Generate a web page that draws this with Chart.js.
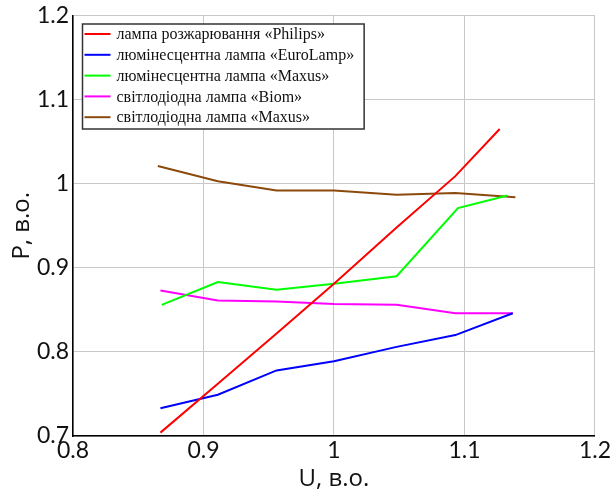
<!DOCTYPE html>
<html>
<head>
<meta charset="utf-8">
<script src="https://cdn.jsdelivr.net/npm/chart.js@4"></script>
<style>
    body { margin: 0; background: #fff; }
    #wrap { width: 614px; height: 491px; }
</style>
</head>
<body>
<div id="wrap"><canvas id="chart"></canvas></div>
<script>
// U, в.о. (спільні точки для більшості ламп)
const uPoints = [0.867, 0.911, 0.956, 1.0, 1.048, 1.093, 1.137];
const uPhilips = [0.867, 0.911, 0.956, 1.0, 1.048, 1.093, 1.127];
const uMaxusLum = [0.868, 0.911, 0.956, 1.0, 1.048, 1.095, 1.133];
const uMaxusLed = [0.865, 0.911, 0.956, 1.0, 1.048, 1.093, 1.139];

// P, в.о.
const pPhilips = [0.704, 0.762, 0.822, 0.881, 0.948, 1.009, 1.065];
const pEuroLamp = [0.733, 0.749, 0.778, 0.789, 0.806, 0.820, 0.846];
const pMaxusLum = [0.856, 0.883, 0.874, 0.881, 0.890, 0.971, 0.986];
const pBiom = [0.873, 0.861, 0.860, 0.857, 0.856, 0.846, 0.846];
const pMaxusLed = [1.021, 1.003, 0.992, 0.992, 0.987, 0.989, 0.984];

const labels = [
    'лампа розжарювання «Philips»',
    'люмінесцентна лампа «EuroLamp»',
    'люмінесцентна лампа «Maxus»',
    'світлодіодна лампа «Biom»',
    'світлодіодна лампа «Maxus»'
];
const colors = ['#ff0000', '#0000ff', '#00ff00', '#ff00ff', '#8b4a0c'];

const xTicks = [0.8, 0.9, 1.0, 1.1, 1.2];
const yTicks = [0.7, 0.8, 0.9, 1.0, 1.1, 1.2];

const toPoints = (xs, ys) => xs.map((x, i) => ({ x: x, y: ys[i] }));

const series = [
    toPoints(uPhilips, pPhilips),
    toPoints(uPoints, pEuroLamp),
    toPoints(uMaxusLum, pMaxusLum),
    toPoints(uPoints, pBiom),
    toPoints(uMaxusLed, pMaxusLed)
];

// легенда всередині поля графіка
const boxLegend = {
    id: 'boxLegend',
    afterDraw(chart) {
        const ctx = chart.ctx;
        const area = chart.chartArea;
        ctx.save();
        ctx.font = '16px "Liberation Serif", serif';
        let maxW = 0;
        labels.forEach(t => { maxW = Math.max(maxW, ctx.measureText(t).width); });
        const x0 = area.left + 9.5;
        const y0 = area.top + 8.5;
        const rowH = 20.8;
        const w = 35 + maxW + 9;
        const h = rowH * labels.length + 1;
        ctx.fillStyle = '#fff';
        ctx.fillRect(x0, y0, w, h);
        ctx.strokeStyle = '#333';
        ctx.lineWidth = 1.5;
        ctx.strokeRect(x0, y0, w, h);
        ctx.textBaseline = 'middle';
        labels.forEach((t, i) => {
            const y = y0 + 10 + i * rowH;
            ctx.strokeStyle = colors[i];
            ctx.lineWidth = 2;
            ctx.beginPath();
            ctx.moveTo(x0 + 2, y);
            ctx.lineTo(x0 + 28, y);
            ctx.stroke();
            ctx.fillStyle = '#111';
            ctx.fillText(t, x0 + 34, y + 1);
        });
        ctx.restore();
    }
};

const fmt = v => String(Number(v.toFixed(2)));
const tickFont = { family: 'Lato', size: 23, lineHeight: 1 };

new Chart(document.getElementById('chart'), {
    type: 'scatter',
    data: {
        datasets: series.map((pts, i) => ({
            label: labels[i],
            data: pts,
            showLine: true,
            borderColor: colors[i],
            backgroundColor: colors[i],
            borderWidth: 2,
            pointRadius: 0,
            tension: 0,
            fill: false
        }))
    },
    options: {
        responsive: true,
        maintainAspectRatio: false,
        animation: false,
        layout: { padding: { top: 14, right: 19, left: 0, bottom: 0 } },
        plugins: {
            legend: { display: false },
            tooltip: { enabled: false }
        },
        scales: {
            x: {
                type: 'linear',
                min: 0.8,
                max: 1.2,
                afterBuildTicks: s => { s.ticks = xTicks.map(v => ({ value: v })); },
                afterFit: s => { s.height = 55; },
                ticks: { font: tickFont, color: '#111', padding: 3, maxRotation: 0, callback: fmt },
                grid: { color: '#c8c8c8', drawTicks: false },
                border: { color: '#000', width: 1.5 },
                title: {
                    display: true, text: 'U, в.о.', color: '#111',
                    font: { family: 'Open Sans', size: 24, lineHeight: 1 },
                    padding: { top: 0, bottom: 0 }
                }
            },
            y: {
                type: 'linear',
                min: 0.7,
                max: 1.2,
                afterBuildTicks: s => { s.ticks = yTicks.map(v => ({ value: v })); },
                afterFit: s => { s.width = 73; },
                ticks: { font: tickFont, color: '#111', padding: 4, callback: fmt },
                grid: { color: '#c8c8c8', drawTicks: false },
                border: { color: '#000', width: 1.5 },
                title: {
                    display: true, text: 'Р, в.о.', color: '#111',
                    font: { family: 'Open Sans', size: 24, lineHeight: 1 },
                    padding: { top: 10, bottom: 0 }
                }
            }
        }
    },
    plugins: [boxLegend]
});
</script>
</body>
</html>
